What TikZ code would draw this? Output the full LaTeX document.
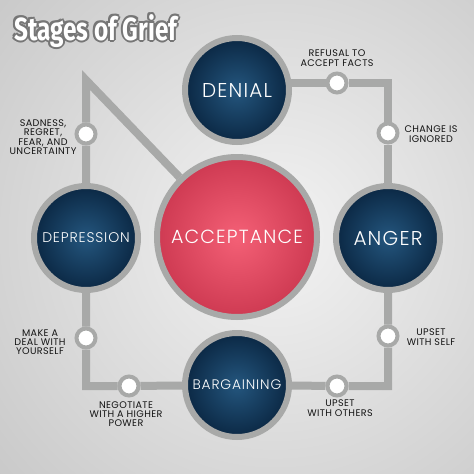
\documentclass[tikz,border=0pt]{standalone}
\usepackage{fontspec}
\newfontfamily\lightfont{Poppins Light}[LetterSpace=6]
\newfontfamily\labfont{Poppins}[LetterSpace=4]
\newfontfamily\titlefont{Fira Sans Bold}[FakeStretch=0.76]
\definecolor{ringgray}{RGB}{168,169,168}
\definecolor{navyin}{RGB}{36,86,126}
\definecolor{navyout}{RGB}{11,40,68}
\definecolor{pinkin}{RGB}{244,96,118}
\definecolor{pinkout}{RGB}{206,58,82}
\definecolor{labtext}{RGB}{20,20,20}
\definecolor{tgray}{RGB}{118,118,118}
\definecolor{bgin}{RGB}{243,243,243}
\definecolor{bgout}{RGB}{195,195,195}
\newcommand\ocopy[3]{\rlap{\kern#1\raisebox{#2}{\color{tgray}#3}}}
\newcommand\outl[1]{\ocopy{2pt}{0pt}{#1}\ocopy{-2pt}{0pt}{#1}\ocopy{0pt}{2pt}{#1}\ocopy{0pt}{-2pt}{#1}\ocopy{1.4pt}{1.4pt}{#1}\ocopy{-1.4pt}{1.4pt}{#1}\ocopy{1.4pt}{-1.4pt}{#1}\ocopy{-1.4pt}{-1.4pt}{#1}#1}
\pgfdeclarelayer{bg}
\pgfdeclarelayer{lines}
\pgfsetlayers{bg,lines,main}
\begin{document}
\begin{tikzpicture}[x=1pt,y=-1pt,
  stage/.style={circle, draw=ringgray, line width=6pt, minimum size=104pt, inner sep=0pt,
    text=white, shading=radial, inner color=navyin, outer color=navyout},
  accept/.style={circle, draw=ringgray, line width=6pt, minimum size=160pt, inner sep=0pt,
    text=white, shading=radial, inner color=pinkin, outer color=pinkout},
  dot/.style={circle, draw=ringgray, line width=4pt, fill=white, minimum size=19pt, inner sep=0pt},
  conn/.style={draw=ringgray, line width=8pt, line join=miter},
  lab/.style={align=center, inner sep=0pt, text=labtext, font=\labfont\fontsize{9.6}{9.3}\selectfont}
]
\useasboundingbox (0,0) rectangle (474,474);
\begin{pgfonlayer}{bg}
  \begin{scope}
    \clip (0,0) rectangle (474,474);
    \shade[inner color=bgin, outer color=bgout] (275,235) circle (420);
  \end{scope}
\end{pgfonlayer}

% big circles
\node[stage, font=\lightfont\fontsize{20}{20}\selectfont] (denial) at (237,90) {DENIAL};
\node[accept, font=\lightfont\fontsize{19}{19}\selectfont] (acceptance) at (237,237) {ACCEPTANCE};
\node[stage, font=\lightfont\fontsize{20}{20}\selectfont] (anger) at (388,238) {ANGER};
\node[stage, font=\lightfont\fontsize{14}{14}\selectfont] (depression) at (86,238) {DEPRESSION};
\node[stage, font=\lightfont\fontsize{13.8}{13.8}\selectfont] (bargaining) at (237,385) {BARGAINING};

% small dots
\node[dot] (refusal) at (337,83) {};
\node[dot] (change) at (388,133) {};
\node[dot] (sadness) at (86,134) {};
\node[dot] (deal) at (86,338) {};
\node[dot] (negotiate) at (129,386) {};
\node[dot] (others) at (337,386) {};
\node[dot] (self) at (388,336) {};
\coordinate (apex) at (86,80);

% connectors
\begin{pgfonlayer}{lines}
  \draw[conn] (denial.center |- refusal) -- (refusal) -- (anger |- refusal) -- (change) -- (anger);
  \draw[conn] (acceptance) -- (apex) -- (sadness) -- (depression);
  \draw[conn] (depression) -- (deal) -- (depression |- negotiate) -- (negotiate) -- (bargaining);
  \draw[conn] (bargaining) -- (others) -- (anger |- others) -- (self) -- (anger);
\end{pgfonlayer}

% labels
\node[lab] (lrefusal) at (337,58) {REFUSAL TO\\ACCEPT FACTS};
\node[lab] (lchange) at (431,134) {CHANGE IS\\IGNORED};
\node[lab] (lsadness) at (43,137) {SADNESS,\\REGRET,\\FEAR, AND\\UNCERTAINTY};
\node[lab] (ldeal) at (40,342) {MAKE A\\DEAL WITH\\YOURSELF};
\node[lab] (lnegotiate) at (126,414) {NEGOTIATE\\WITH A HIGHER\\POWER};
\node[lab] (lself) at (431,337) {UPSET\\WITH SELF};
\node[lab] (lothers) at (340,408) {UPSET\\WITH OTHERS};

% title
\node[anchor=base west, inner sep=0pt, text=white, font=\titlefont\fontsize{32}{32}\selectfont] (title) at (14,40) {\outl{Stages of Grief}};
\end{tikzpicture}
\end{document}
